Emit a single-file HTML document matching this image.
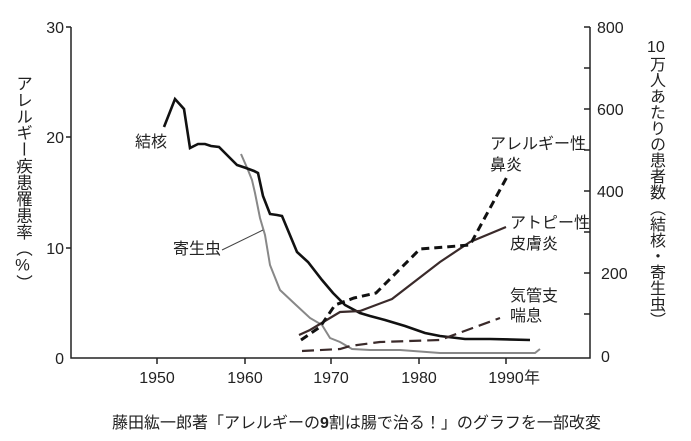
<!DOCTYPE html>
<html><head><meta charset="utf-8"><style>
body{margin:0;background:#fff;position:relative;width:691px;height:441px;overflow:hidden}
svg text{font-family:"Liberation Sans","Noto Sans CJK JP",sans-serif;fill:#222;}
.v{position:absolute;writing-mode:vertical-rl;text-orientation:upright;font-family:"Liberation Sans","Noto Sans CJK JP",sans-serif;color:#222;line-height:1;white-space:nowrap}
</style></head><body>
<svg width="691" height="441" viewBox="0 0 691 441" xmlns="http://www.w3.org/2000/svg" style="position:absolute;left:0;top:0">
<g stroke="#222" stroke-width="1.5" fill="none">
<path d="M71,27V358H590V27"/>
<path d="M66,27H71M66,137H71M66,248H71"/>
<path d="M157,358v6M245,358v6M331,358v6M419,358v6M506,358v6"/>
<path d="M590,27h-6M590,68h-6M590,109h-6M590,150h-6M590,191h-6M590,232h-6M590,273h-6M590,314h-6"/>
</g>
<g font-size="16" text-anchor="end">
<text x="64" y="33">30</text><text x="64" y="143">20</text><text x="64" y="254">10</text><text x="64" y="364">0</text>
</g>
<g font-size="16">
<text x="597" y="33">800</text><text x="597" y="115">600</text><text x="597" y="197">400</text><text x="601" y="279">200</text><text x="601" y="362">0</text>
</g>
<g font-size="16" text-anchor="middle">
<text x="157" y="383">1950</text><text x="245" y="383">1960</text><text x="331" y="383">1970</text><text x="419" y="383">1980</text><text x="506" y="383">1990</text>
</g>
<text x="532" y="383" font-size="16" text-anchor="middle">年</text>
<polyline fill="none" stroke="#888" stroke-width="2" points="241,154 248,170 252,180 255,193 260,218 265,235 270,265 280,290 296,305 310,318 322,325 330,338 340,342 352,349 370,350 400,350 440,353 500,353 535,353 540,349"/>
<polyline fill="none" stroke="#111" stroke-width="2.6" points="164,127 175,99 184,109 190,148 198,144 205,144 211,146 219,147 227,155 237,165 246,168 254,171 258,173 263,196 270,214 277,215 282,216 297,252 308,262 322,280 333,293 345,305 360,313 370,316 385,320 405,326 425,333 440,336 465,339 490,339 530,340"/>
<polyline fill="none" stroke="#3a2a2a" stroke-width="2.2" points="299,335 310,330 340,312 360,311 392,299 440,262 470,242 506,227"/>
<polyline fill="none" stroke="#111" stroke-width="3" stroke-dasharray="8,5" points="301,340 320,327 335,305 354,298 376,293 420,249 470,245 508,175"/>
<polyline fill="none" stroke="#3a2a2a" stroke-width="2.2" stroke-dasharray="12,6" points="302,351 340,349 350,346 380,342 440,340 500,318"/>
<line x1="222" y1="250" x2="263" y2="230" stroke="#444" stroke-width="1"/>
<g font-size="16">
<text x="135" y="147">結核</text>
<text x="173" y="254">寄生虫</text>
<text x="490" y="149">アレルギー性</text>
<text x="490" y="170">鼻炎</text>
<text x="510" y="228">アトピー性</text>
<text x="510" y="249">皮膚炎</text>
<text x="510" y="301">気管支</text>
<text x="510" y="321">喘息</text>
<text x="112" y="428">藤田紘一郎著「アレルギーの<tspan font-weight="bold">9</tspan>割は腸で治る！」のグラフを一部改変</text>
</g>
<text font-size="16" x="647" y="52">10</text>
</svg>
<div class="v" style="left:14px;top:75px;font-size:16.5px;">アレルギー疾患罹患率（%）</div>
<div class="v" style="left:647px;top:56px;font-size:16px;">万人あたりの患者数（結核・寄生虫）</div>
</body></html>
